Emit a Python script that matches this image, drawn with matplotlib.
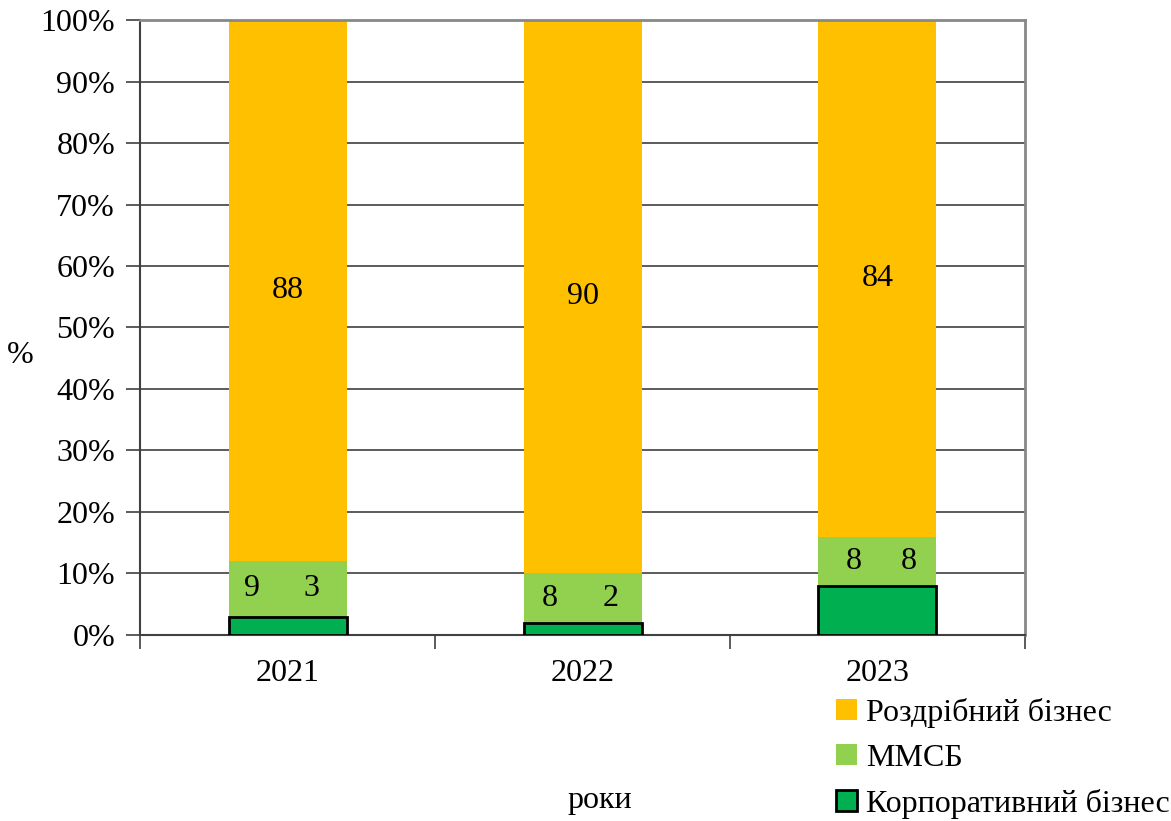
import numpy as np
import matplotlib.pyplot as plt
from matplotlib.patches import Patch

plt.rcParams['font.family'] = ['Liberation Serif', 'DejaVu Serif']

years = ['2021', '2022', '2023']
corporate = [3, 2, 8]
mmsb = [9, 8, 8]
retail = [88, 90, 84]

# label x-offsets inside the green segment (as in the source)
mmsb_dx = [-0.12, -0.11, -0.08]
corp_dx = [0.08, 0.095, 0.105]

FS = 23

fig = plt.figure(figsize=(11.71, 8.21), dpi=100)
ax = fig.add_axes([0.1196, 0.2266, 0.7557, 0.749])

x = np.arange(len(years))
w = 0.4
ax.bar(x, corporate, w, color='#00B050', edgecolor='black', linewidth=2, zorder=3)
ax.bar(x, mmsb, w, bottom=corporate, color='#92D050', zorder=2)
bottom2 = np.array(corporate) + np.array(mmsb)
ax.bar(x, retail, w, bottom=bottom2, color='#FFC000', zorder=2)

for i in range(len(years)):
    ymid = corporate[i] + mmsb[i] / 2
    ax.text(x[i] + mmsb_dx[i], ymid, str(mmsb[i]), ha='center', va='center', fontsize=FS, zorder=4)
    ax.text(x[i] + corp_dx[i], ymid, str(corporate[i]), ha='center', va='center', fontsize=FS, zorder=4)
    ax.text(x[i], bottom2[i] + retail[i] / 2, str(retail[i]), ha='center', va='center', fontsize=FS, zorder=4)

ax.set_xlim(-0.5, 2.5)
ax.set_ylim(0, 100)
ax.set_yticks(range(0, 101, 10))
ax.set_yticklabels([f'{v}%' for v in range(0, 101, 10)], fontsize=FS)
ax.yaxis.grid(True, color='#404040', linewidth=1.2, zorder=1)
ax.set_axisbelow(True)

ax.set_xticks(x)
ax.set_xticklabels(years, fontsize=FS)
ax.tick_params(axis='x', length=0, pad=17)
ax.set_xticks([-0.5, 0.5, 1.5, 2.5], minor=True)
ax.tick_params(axis='x', which='minor', length=10, color='#404040', width=1.2)
ax.tick_params(axis='y', length=10, color='#404040', width=1.2, pad=8)

ax.spines['left'].set_color('#404040')
ax.spines['left'].set_linewidth(1.5)
ax.spines['bottom'].set_color('#404040')
ax.spines['bottom'].set_linewidth(1.5)
ax.spines['top'].set_color('#888888')
ax.spines['top'].set_linewidth(2)
ax.spines['right'].set_color('#888888')
ax.spines['right'].set_linewidth(2)

fig.text(20 / 1171, 1 - 355 / 821, '%', fontsize=FS, ha='center', va='center')
fig.text(600 / 1171, 1 - 800 / 821, 'роки', fontsize=FS, ha='center', va='center')

handles = [
    Patch(facecolor='#FFC000', label='Роздрібний бізнес'),
    Patch(facecolor='#92D050', label='ММСБ'),
    Patch(facecolor='#00B050', edgecolor='black', linewidth=2, label='Корпоративний бізнес'),
]
fig.legend(handles=handles, loc='upper left', bbox_to_anchor=(836 / 1171, 1 - 698 / 821),
           frameon=False, fontsize=FS, handlelength=0.65, handleheight=0.65,
           handletextpad=0.3, labelspacing=0.5, borderaxespad=0, borderpad=0)

fig.savefig('out.png', dpi=100)
